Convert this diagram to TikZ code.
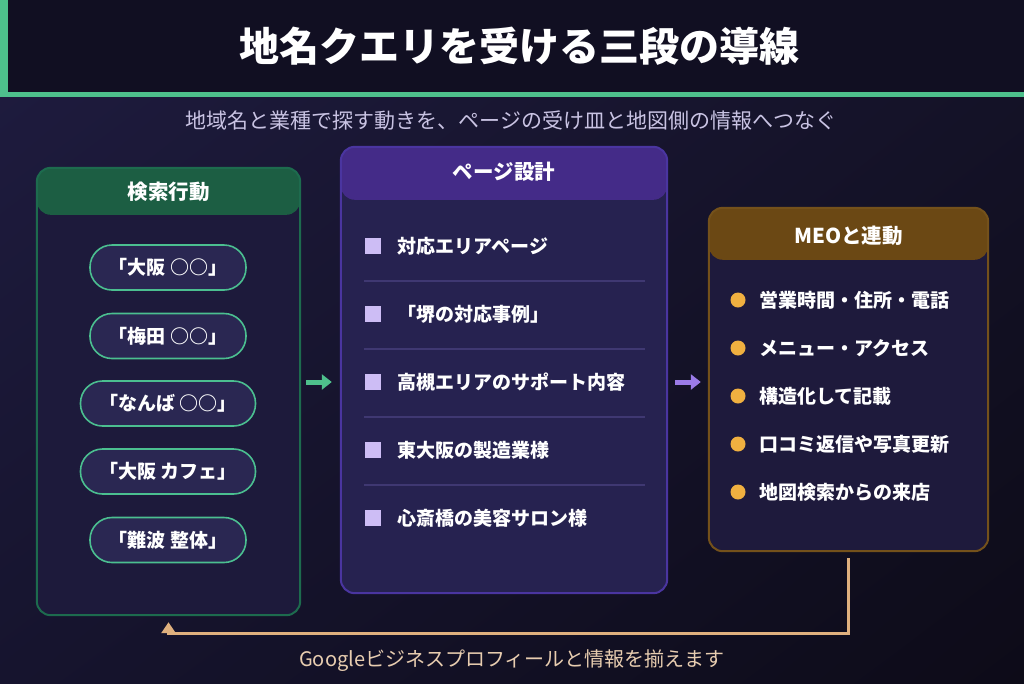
\documentclass[tikz,border=0pt]{standalone}
\usepackage{fontspec}
\setmainfont{Noto Sans CJK JP}
\usetikzlibrary{arrows.meta,shadings}
\definecolor{bgA}{HTML}{1F1C40}
\definecolor{bgB}{HTML}{0D0B18}
\definecolor{bgC}{HTML}{16142E}
\definecolor{bgD}{HTML}{151329}
\definecolor{hdrbg}{HTML}{110F22}
\definecolor{accent}{HTML}{4EC08C}
\definecolor{subtxt}{HTML}{C9C3E3}
\definecolor{gHdr}{HTML}{1C5E43}
\definecolor{gBrd}{HTML}{1D6B4E}
\definecolor{gBody}{HTML}{1D1A3B}
\definecolor{pillFill}{HTML}{2A2752}
\definecolor{pillBrd}{HTML}{4BBF90}
\definecolor{pHdr}{HTML}{442B88}
\definecolor{pBrd}{HTML}{4A35A0}
\definecolor{pBody}{HTML}{262250}
\definecolor{pSep}{HTML}{3F3872}
\definecolor{pSq}{HTML}{CDBDF5}
\definecolor{pArr}{HTML}{9B7BE8}
\definecolor{oHdr}{HTML}{6B4814}
\definecolor{oBrd}{HTML}{74511B}
\definecolor{oBody}{HTML}{1E1A3C}
\definecolor{oDot}{HTML}{F0B040}
\definecolor{fb}{HTML}{DFB07E}
\definecolor{fbtxt}{HTML}{E8CDB0}
\begin{document}
\begin{tikzpicture}[x=1pt,y=-1pt,
  panel/.style={inner sep=0pt, rounded corners=14pt},
  paneltitle/.style={text=white, font=\fontsize{20.5}{24}\selectfont\bfseries},
  pill/.style={draw=pillBrd, line width=1.6pt, fill=pillFill, rounded corners=22pt,
     minimum height=45pt, text=white, font=\fontsize{19}{22}\selectfont\bfseries, inner sep=0pt},
  item/.style={anchor=west, text=white, font=\fontsize{19}{22}\selectfont\bfseries, inner sep=0pt},
  sq/.style={fill=pSq, minimum size=16pt, inner sep=0pt},
  dot/.style={circle, fill=oDot, minimum size=15pt, inner sep=0pt},
  sep/.style={draw=pSep, line width=1.5pt},
  flowarrow/.style={line width=5pt, -{Triangle[width=15pt,length=10pt]}},
]
\useasboundingbox (0,0) rectangle (1024,683);
% background
\shade[upper left=bgA, upper right=bgD, lower left=bgC, lower right=bgB] (0,0) rectangle (1024,683);
% header
\fill[hdrbg] (0,0) rectangle (1024,92);
\fill[accent] (0,92) rectangle (1024,97);
\fill[accent] (0,0) rectangle (8,92);
\node[text=white, font=\fontsize{40}{44}\selectfont\bfseries] (title) at (519,46) {地名クエリを受ける三段の導線};
\node[text=subtxt, font=\fontsize{21}{24}\selectfont] (subtitle) at (511,121) {地域名と業種で探す動きを、ページの受け皿と地図側の情報へつなぐ};

% ---------- left panel
\node[panel, fill=gBody, minimum width=263pt, minimum height=447pt] (search) at (168.5,391.5) {};
\fill[gHdr, rounded corners=14pt] (search.north west) rectangle ([yshift=-47pt]search.north east);
\draw[gBrd, line width=2pt, rounded corners=14pt] (search.north west) rectangle (search.south east);
\node[paneltitle] (searchT) at (168.5,192) {検索行動};
\node[pill, minimum width=156pt] (q1) at (168,267.5) {「大阪 ○○」};
\node[pill, minimum width=156pt] (q2) at (168,336) {「梅田 ○○」};
\node[pill, minimum width=175pt] (q3) at (168,403.5) {「なんば ○○」};
\node[pill, minimum width=175pt] (q4) at (168,471.5) {「大阪 カフェ」};
\node[pill, minimum width=156pt] (q5) at (168,540) {「難波 整体」};

% ---------- middle panel
\node[panel, fill=pBody, minimum width=326pt, minimum height=446pt] (page) at (504,370) {};
\fill[pHdr, rounded corners=14pt] (page.north west) rectangle ([yshift=-53pt]page.north east);
\draw[pBrd, line width=2pt, rounded corners=14pt] (page.north west) rectangle (page.south east);
\node[paneltitle] (pageT) at (504,172) {ページ設計};
\foreach \y/\t [count=\i] in {246/対応エリアページ, 314/「堺の対応事例」, 382/高槻エリアのサポート内容, 450/東大阪の製造業様, 518/心斎橋の美容サロン様}{
  \node[sq] (s\i) at (373,\y) {};
  \node[item] (p\i) at (397,\y) {\t};
}
\foreach \y [count=\i] in {281,349,417,485}{
  \coordinate (la\i) at (364,\y);
  \coordinate (lb\i) at (645,\y);
  \draw[sep] (la\i) -- (lb\i);
}

% ---------- right panel
\node[panel, fill=oBody, minimum width=279pt, minimum height=343pt] (meo) at (848.5,379.5) {};
\fill[oHdr, rounded corners=14pt] (meo.north west) rectangle ([yshift=-52pt]meo.north east);
\draw[oBrd, line width=2pt, rounded corners=14pt] (meo.north west) rectangle (meo.south east);
\node[paneltitle] (meoT) at (848.5,236) {MEOと連動};
\foreach \y/\t [count=\i] in {300/営業時間・住所・電話, 348/メニュー・アクセス, 396/構造化して記載, 444/口コミ返信や写真更新, 492/地図検索からの来店}{
  \node[dot] (d\i) at (738,\y) {};
  \node[item] (m\i) at (759,\y) {\t};
}

% ---------- arrows
\draw[flowarrow, accent, shorten <=6pt, shorten >=9pt] (search.east |- p3) -- (page.west |- p3);
\draw[flowarrow, pArr, shorten <=8pt, shorten >=8pt] (page.east |- p3) -- (meo.west |- p3);

% feedback
\coordinate (fbc) at (848.5,633);
\draw[fb, line width=3pt, -{Triangle[width=14pt,length=11pt]}, shorten <=7pt, shorten >=7pt]
  (meo.south) -- (fbc) -| (search.south);
\node[text=fbtxt, font=\fontsize{20}{24}\selectfont] (fbT) at (512,661) {Googleビジネスプロフィールと情報を揃えます};
\end{tikzpicture}
\end{document}
